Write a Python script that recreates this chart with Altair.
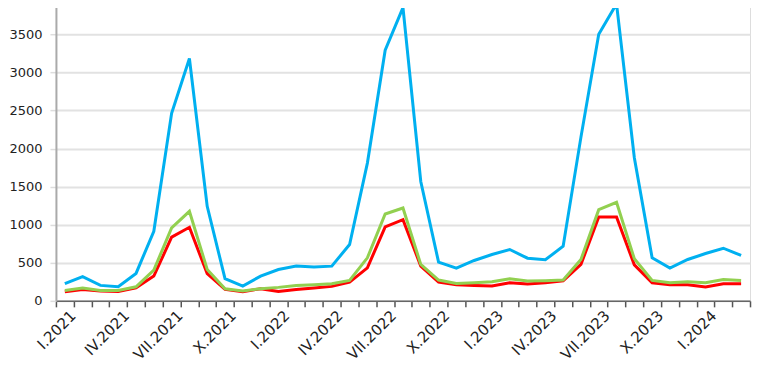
import altair as alt
import pandas as pd

roman = ["I", "II", "III", "IV", "V", "VI", "VII", "VIII", "IX", "X", "XI", "XII"]
years = [2021, 2022, 2023, 2024]
categories = [f"{roman[m]}.{y}" for y in years for m in range(12)][:39]

blue = [225, 317, 203, 186, 360, 914, 2464, 3183, 1241, 291,
        194, 325, 412, 456, 443, 456, 740, 1809, 3292, 3851,
        1568, 508, 429, 530, 609, 674, 560, 539, 717, 2150,
        3500, 3900, 1880, 565, 430, 543, 622, 691, 596]
green = [137, 168, 137, 137, 185, 404, 958, 1176, 412, 159,
         129, 159, 177, 203, 212, 225, 268, 565, 1141, 1219,
         478, 273, 229, 238, 251, 290, 260, 264, 273, 543,
         1198, 1294, 552, 268, 238, 251, 238, 281, 268]
red = [120, 150, 129, 124, 172, 325, 836, 966, 356, 150,
       120, 159, 124, 150, 168, 190, 246, 434, 971, 1067,
       456, 247, 212, 203, 194, 238, 220, 238, 262, 478,
       1102, 1102, 473, 238, 212, 212, 181, 225, 225]

series_names = ["blue", "red", "green"]
series_colors = ["#00B0F0", "#FF0000", "#92D050"]

df = pd.DataFrame({
    "month": categories * 3,
    "value": blue + red + green,
    "series": ["blue"] * 39 + ["red"] * 39 + ["green"] * 39,
})

x = alt.X(
    "month:N",
    sort=categories,
    bandPosition=0.5,
    scale=alt.Scale(type="band", paddingInner=0, paddingOuter=0),
    axis=alt.Axis(
        title=None,
        labelAngle=-45,
        labelAlign="right",
        labelBaseline="middle",
        labelOffset=8,
        labelExpr="indexof(['I','IV','VII','X'], split(datum.value, '.')[0]) >= 0 ? datum.value : ''",
        labelOverlap=False,
        tickBand="extent",
        tickSize=6,
        tickColor="#555555",
        tickWidth=1.5,
        domainColor="#666666",
        domainWidth=1.5,
        labelFont="DejaVu Sans",
        labelFontSize=15,
        labelColor="#222222",
        labelPadding=6,
        grid=False,
    ),
)
y = alt.Y(
    "value:Q",
    scale=alt.Scale(domain=[0, 4000], nice=False),
    axis=alt.Axis(
        title=None,
        values=list(range(0, 4001, 500)),
        format="d",
        grid=True,
        gridColor="#e2e2e2",
        gridWidth=2,
        tickColor="#dddddd",
        tickSize=6,
        tickWidth=1.5,
        domainColor="#aaaaaa",
        domainWidth=2,
        labelFont="DejaVu Sans",
        labelFontSize=13,
        labelColor="#222222",
        labelPadding=8,
    ),
)
color = alt.Color("series:N", scale=alt.Scale(domain=series_names, range=series_colors), legend=None)

base = alt.Chart(df).mark_line(strokeWidth=3).encode(x=x, y=y, color=color)
layers = [base.transform_filter(alt.datum.series == s) for s in series_names]

chart = alt.layer(*layers).properties(
    width=695,
    height=305,
    autosize=alt.AutoSizeParams(type="none"),
    padding={"left": 48, "top": -12, "right": 10, "bottom": 70},
).configure_view(stroke=None).configure(background="white")

chart.save("out.html", embed_options={"renderer": "svg", "actions": False})
